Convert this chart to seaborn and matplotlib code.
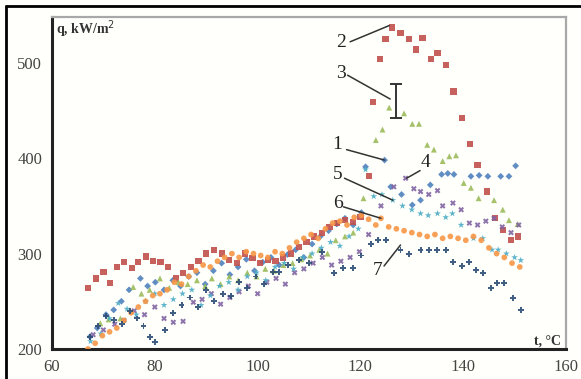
import numpy as np
import pandas as pd
import matplotlib
matplotlib.use('Agg')
import matplotlib.pyplot as plt
import seaborn as sns
from matplotlib.lines import Line2D

# Values (t in degC, q in kW/m2)
t1 = [67.4, 68.8, 70.5, 72.0, 73.5, 75.0, 77.2, 78.6, 80.1, 81.8, 83.5, 85.0, 86.6, 88.2, 89.8, 91.4, 93.0,
      94.6, 96.2, 97.8, 99.4, 101.0, 102.6, 104.2, 105.8, 107.4, 109.0, 110.6, 112.2, 113.8, 115.4, 117.0,
      118.6, 120.2, 121.0, 124.7, 125.9, 128.0, 130.1, 131.7, 133.6, 135.8, 137.0, 138.2, 141.5, 143.1,
      144.8, 147.3, 148.9, 150.2]
q1 = [213, 222, 236, 241, 250, 262, 274, 266, 270, 262, 272, 266, 276, 280, 268, 282, 290,
      278, 286, 294, 282, 291, 296, 288, 299, 304, 296, 310, 318, 324, 331, 337,
      330, 343, 391, 398, 370, 362, 351, 356, 372, 383, 384, 383, 381, 382,
      381, 381, 381, 392]

t2 = [67.0, 68.6, 70.0, 71.3, 72.7, 74.0, 75.6, 76.8, 78.3, 79.7, 81.1, 82.6, 84.2, 85.5, 87.0, 88.5, 90.0,
      91.5, 93.0, 94.5, 96.0, 97.5, 99.0, 100.5, 102.0, 103.5, 105.0, 106.5, 108.0, 109.5, 111.0, 112.5,
      114.0, 115.5, 117.0, 118.5, 120.0, 121.6, 122.4, 123.8, 124.9, 126.2, 127.8, 129.5, 130.8, 132.1,
      133.7, 135.0, 136.6, 138.1, 139.7, 141.3, 142.8, 144.7, 146.2, 147.7, 149.3, 150.6]
q2 = [264, 274, 281, 269, 286, 291, 285, 291, 297, 292, 291, 286, 274, 280, 286, 292, 300,
      304, 300, 293, 290, 300, 295, 290, 293, 292, 296, 300, 307, 312, 318, 322,
      328, 332, 335, 333, 338, 381, 459, 504, 525, 537, 531, 525, 514, 526,
      504, 510, 498, 470, 442, 415, 393, 365, 337, 325, 314, 318]

t3 = [69.4, 71.0, 73.3, 75.8, 77.4, 79.0, 81.0, 82.8, 84.6, 86.4, 88.2, 89.8, 91.1, 92.8, 94.5, 96.2, 98.0,
      99.8, 101.5, 103.2, 105.0, 106.8, 108.5, 110.2, 112.0, 113.6, 115.2, 117.0, 118.6, 120.6, 123.0,
      124.3, 125.6, 128.5, 130.1, 131.4, 133.0, 134.3, 136.0, 137.3, 138.6, 140.1, 141.5, 143.0, 146.0,
      147.7, 148.9, 150.6]
q3 = [227, 231, 232, 265, 258, 262, 274, 264, 270, 268, 272, 266, 274, 268, 276, 272, 280,
      276, 284, 282, 288, 290, 294, 298, 304, 300, 314, 318, 322, 358, 419,
      430, 453, 447, 436, 436, 414, 409, 397, 402, 403, 374, 369, 358, 356,
      346, 335, 331]

t4 = [68.0, 70.0, 72.2, 74.0, 76.0, 78.0, 80.0, 81.8, 83.6, 85.5, 87.5, 89.2, 91.0, 92.8, 94.6, 96.4, 98.2,
      100.0, 101.8, 103.6, 105.4, 107.2, 109.0, 110.8, 112.6, 114.4, 116.2, 118.0, 119.8, 121.6, 124.0,
      126.5, 128.8, 130.4, 131.7, 133.3, 135.0, 136.0, 138.0, 139.6, 141.2, 142.8, 144.4, 146.0, 147.6,
      149.3, 150.8]
q4 = [215, 220, 226, 230, 240, 236, 244, 232, 228, 229, 249, 252, 258, 247, 254, 260, 266,
      258, 270, 274, 268, 280, 284, 290, 296, 288, 292, 296, 302, 320, 350,
      370, 379, 368, 365, 362, 366, 350, 353, 346, 332, 330, 334, 337, 328,
      322, 330]

t5 = [67.5, 69.5, 71.2, 72.9, 74.6, 76.4, 78.2, 80.0, 81.8, 83.6, 85.4, 87.2, 89.0, 90.8, 92.6, 94.4, 96.2,
      98.0, 99.8, 101.6, 103.4, 105.2, 107.0, 108.8, 110.6, 112.4, 114.2, 116.0, 117.8, 119.6, 121.0,
      122.6, 124.2, 126.3, 128.2, 130.0, 131.7, 133.2, 135.0, 136.6, 137.9, 139.6, 142.0, 143.8, 145.6,
      146.8, 148.4, 150.0, 151.2]
q5 = [208, 216, 232, 248, 242, 236, 250, 258, 246, 252, 258, 262, 246, 256, 266, 270, 262,
      276, 280, 272, 286, 290, 284, 296, 300, 306, 312, 308, 318, 326, 388,
      360, 362, 356, 350, 346, 342, 340, 342, 338, 342, 330, 316, 316, 304,
      304, 300, 296, 293]

t6 = [67.0, 68.4, 69.8, 71.2, 72.6, 74.0, 75.4, 76.8, 78.2, 79.6, 81.0, 82.4, 83.8, 85.2, 86.6, 88.0, 89.4,
      90.8, 92.2, 93.6, 95.0, 96.4, 97.8, 99.2, 100.6, 102.0, 103.4, 104.8, 106.2, 107.6, 109.0, 110.4,
      111.8, 113.2, 114.6, 116.0, 117.4, 118.8, 120.2, 121.6, 123.0, 124.0, 125.5, 127.0, 128.5, 130.0,
      131.5, 133.0, 134.5, 136.0, 137.5, 139.0, 140.5, 142.0, 143.5, 145.0, 146.5, 148.0, 149.5, 151.0]
q6 = [200, 206, 214, 218, 222, 230, 238, 244, 250, 256, 258, 262, 270, 268, 276, 282, 288,
      286, 292, 296, 300, 296, 302, 300, 298, 296, 302, 300, 306, 312, 316, 320,
      316, 326, 332, 334, 330, 338, 340, 336, 330, 337, 328, 326, 324, 322,
      320, 318, 320, 316, 318, 316, 314, 318, 314, 306, 300, 296, 290, 286]

t7 = [67.4, 69.0, 70.5, 72.0, 73.6, 75.2, 76.6, 77.8, 79.1, 80.1, 82.0, 83.6, 85.2, 86.8, 88.4, 90.0, 91.6,
      93.2, 94.8, 96.4, 98.0, 99.6, 101.2, 103.0, 104.2, 106.0, 108.0, 110.0, 112.6, 114.8, 116.6, 118.5,
      120.2, 122.0, 123.4, 125.0, 127.8, 129.5, 131.7, 133.3, 134.9, 136.6, 138.0, 139.8, 141.2, 142.5,
      143.8, 145.4, 146.5, 148.0, 149.7, 151.2]
q7 = [213, 224, 235, 230, 226, 240, 232, 224, 213, 207, 220, 238, 246, 254, 244, 262, 250,
      258, 256, 270, 264, 276, 268, 281, 281, 288, 293, 290, 302, 280, 285, 285,
      298, 310, 314, 314, 304, 300, 304, 304, 304, 304, 291, 287, 291, 283,
      280, 264, 269, 269, 253, 241]

series_t = [t1, t2, t3, t4, t5, t6, t7]
series_q = [q1, q2, q3, q4, q5, q6, q7]
names = ['1', '2', '3', '4', '5', '6', '7']

# error bar on curve 3
err_t, err_q, err_d = 127.0, 460, 18

# build long table
frames = []
for n, t, q in zip(names, series_t, series_q):
    frames.append(pd.DataFrame({'t': t, 'q': q, 'series': n}))
df = pd.concat(frames, ignore_index=True)

colors = {'1': '#4F81BD', '2': '#C0504D', '3': '#9BBB59', '4': '#8064A2',
          '5': '#4BACC6', '6': '#F79646', '7': '#2C4D75'}
markers = {'1': 'D', '2': 's', '3': '^', '4': 'X', '5': '*', '6': 'o', '7': 'P'}
sizes = {'1': 12, '2': 20, '3': 18, '4': 17, '5': 26, '6': 17, '7': 18}

sns.set_style("white")
plt.rcParams['font.family'] = ['Liberation Serif', 'DejaVu Serif']

bg = '#fffffb'
fig = plt.figure(figsize=(5.81, 3.79), dpi=100, facecolor=bg)
ax = fig.add_axes([52 / 581, 1 - 349 / 379, (566 - 52) / 581, (349 - 17) / 379])
ax.set_facecolor(bg)

for n in names:
    sub = df[df['series'] == n]
    sns.scatterplot(data=sub, x='t', y='q', color=colors[n], marker=markers[n],
                    s=sizes[n], edgecolor='none', alpha=0.9, legend=False, ax=ax, zorder=3)

ax.errorbar([err_t], [err_q], yerr=[err_d], fmt='none', ecolor='#333333',
            elinewidth=1.4, capsize=4, capthick=1.4, zorder=4)

# curve labels with leader lines: (text pos, line start, line end)
labels = [
    ('1', (115.5, 414), (117.3, 409), (124.7, 398)),
    ('2', (116.3, 521), (118.0, 522), (125.6, 539)),
    ('3', (116.3, 489), (117.5, 487), (125.8, 462)),
    ('4', (132.6, 395), (131.6, 387), (129.0, 379)),
    ('5', (115.6, 383), (116.9, 379), (126.3, 356)),
    ('6', (115.6, 353), (116.7, 349), (124.0, 337)),
    ('7', (123.3, 282), (124.6, 287), (127.8, 309)),
]
for txt, tp, p0, p1 in labels:
    ax.text(tp[0], tp[1], txt, fontsize=14, ha='center', va='center', color='#222222', zorder=5)
    ax.add_line(Line2D([p0[0], p1[0]], [p0[1], p1[1]], color='#333333', lw=1.1, zorder=5))

ax.set_xlim(60, 160)
ax.set_ylim(200, 548)
ax.set_xticks([60, 80, 100, 120, 140, 160])
ax.set_yticks([200, 300, 400, 500])
ax.set_xlabel('')
ax.set_ylabel('')
ax.tick_params(axis='both', direction='out', length=5, width=1.5, labelsize=12,
               labelcolor='#444444', color='#222222')
ax.tick_params(axis='y', pad=2)
ax.tick_params(axis='x', pad=2)

for side in ['left', 'bottom']:
    ax.spines[side].set_color('#222222')
    ax.spines[side].set_linewidth(2.2)
for side in ['top', 'right']:
    ax.spines[side].set_color('#a8a8a8')
    ax.spines[side].set_linewidth(1.6)

ax.text(0.008, 0.962, 'q, kW/m$^2$', transform=ax.transAxes, fontsize=10, fontweight='bold',
        ha='left', va='center', color='#333333')
ax.text(0.99, 0.025, 't, °C', transform=ax.transAxes, fontsize=10, fontweight='bold',
        ha='right', va='center', color='#333333')

# outer frame of the original picture (top and left edges)
fig.add_artist(Line2D([6 / 581, 1], [1 - 6 / 379, 1 - 6 / 379], transform=fig.transFigure,
                      color='black', lw=2))
fig.add_artist(Line2D([6 / 581, 6 / 581], [0, 1 - 6 / 379], transform=fig.transFigure,
                      color='black', lw=2))

fig.savefig('out.png', dpi=100, facecolor=bg)
